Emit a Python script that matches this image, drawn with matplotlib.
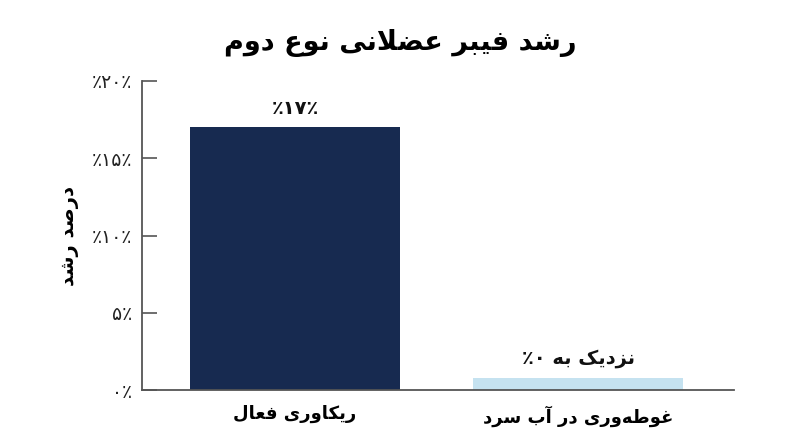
import matplotlib
matplotlib.use("Agg")
import matplotlib.pyplot as plt

# داده‌ها
categories = ["ریکاوری فعال", "غوطه‌وری در آب سرد"]
values = [17, 0.8]
bar_labels = ["٪۱۷٪", "نزدیک به ۰٪"]
colors = ["#172a50", "#c5e2f0"]
yticks = [0, 5, 10, 15, 20]
ytick_labels = ["۰٪", "۵٪", "٪۱۰٪", "٪۱۵٪", "٪۲۰٪"]
title = "رشد فیبر عضلانی نوع دوم"
ylabel = "درصد رشد"

# شکل‌دهی ساده حروف فارسی (matplotlib خودش حروف را به هم وصل نمی‌کند)
FORMS = {  # isolated, final, initial, medial
    "ا": (0xFE8D, 0xFE8E, None, None), "آ": (0xFE81, 0xFE82, None, None),
    "ب": (0xFE8F, 0xFE90, 0xFE91, 0xFE92), "ت": (0xFE95, 0xFE96, 0xFE97, 0xFE98),
    "د": (0xFEA9, 0xFEAA, None, None), "ر": (0xFEAD, 0xFEAE, None, None),
    "ز": (0xFEAF, 0xFEB0, None, None), "س": (0xFEB1, 0xFEB2, 0xFEB3, 0xFEB4),
    "ش": (0xFEB5, 0xFEB6, 0xFEB7, 0xFEB8), "ص": (0xFEB9, 0xFEBA, 0xFEBB, 0xFEBC),
    "ض": (0xFEBD, 0xFEBE, 0xFEBF, 0xFEC0), "ط": (0xFEC1, 0xFEC2, 0xFEC3, 0xFEC4),
    "ع": (0xFEC9, 0xFECA, 0xFECB, 0xFECC), "غ": (0xFECD, 0xFECE, 0xFECF, 0xFED0),
    "ف": (0xFED1, 0xFED2, 0xFED3, 0xFED4), "ل": (0xFEDD, 0xFEDE, 0xFEDF, 0xFEE0),
    "م": (0xFEE1, 0xFEE2, 0xFEE3, 0xFEE4), "ن": (0xFEE5, 0xFEE6, 0xFEE7, 0xFEE8),
    "ه": (0xFEE9, 0xFEEA, 0xFEEB, 0xFEEC), "و": (0xFEED, 0xFEEE, None, None),
    "ی": (0xFBFC, 0xFBFD, 0xFBFE, 0xFBFF), "ک": (0xFB8E, 0xFB8F, 0xFB90, 0xFB91),
}
LAM_ALEF = {"ا": (0xFEFB, 0xFEFC), "آ": (0xFEF5, 0xFEF6)}
DIGITS = "۰۱۲۳۴۵۶۷۸۹0123456789"


def dual(c):
    return c in FORMS and FORMS[c][2] is not None


def shape(text):
    chars = list(text)
    out = []
    i = 0
    while i < len(chars):
        c = chars[i]
        if c not in FORMS:
            if c != "\u200c":
                out.append(c)
            i += 1
            continue
        prev = chars[i - 1] if i > 0 else ""
        joined_prev = dual(prev)
        if c == "ل" and i + 1 < len(chars) and chars[i + 1] in LAM_ALEF:
            iso, fin = LAM_ALEF[chars[i + 1]]
            out.append(chr(fin if joined_prev else iso))
            i += 2
            continue
        nxt = chars[i + 1] if i + 1 < len(chars) else ""
        joined_next = dual(c) and nxt in FORMS
        iso, fin, ini, med = FORMS[c]
        if joined_prev and joined_next:
            code = med
        elif joined_prev:
            code = fin
        elif joined_next:
            code = ini
        else:
            code = iso
        out.append(chr(code))
        i += 1
    # ترتیب دیداری: برعکس کردن، ولی اعداد از چپ به راست
    rev = "".join(reversed(out))
    res, run = [], ""
    for ch in rev:
        if ch in DIGITS:
            run += ch
        else:
            res.append(run[::-1])
            run = ""
            res.append(ch)
    res.append(run[::-1])
    return "".join(res)


def vis(s):
    # برچسب‌های عددی همان‌طور که در تصویر دیده می‌شوند
    if any(ch in FORMS for ch in s):
        return shape(s)
    return s


plt.rcParams["font.family"] = ["DejaVu Sans"]

fig = plt.figure(figsize=(8, 4.47), dpi=100)
ax = fig.add_axes([0.1775, 0.1275, 0.74, 0.6913])

x = list(range(len(categories)))
bars = ax.bar(x, values, width=0.74, color=colors)

for rect, lab in zip(bars, bar_labels):
    ax.annotate(vis(lab), (rect.get_x() + rect.get_width() / 2, rect.get_height()),
                xytext=(0, 7), textcoords="offset points", ha="center", va="bottom",
                fontsize=14, fontweight="bold", color="#111111")

ax.set_xlim(-0.54, 1.55)
ax.set_ylim(0, 20)
ax.set_yticks(yticks)
ax.set_yticklabels([vis(t) for t in ytick_labels])
ax.set_xticks(x)
ax.set_xticklabels([shape(c) for c in categories], fontsize=13, fontweight="bold")

ax.tick_params(axis="y", direction="in", length=11, width=1.2, color="#555555",
               labelsize=13.5, labelcolor="#222222", pad=7)
ax.tick_params(axis="x", length=0, pad=11)

for side in ["top", "right"]:
    ax.spines[side].set_visible(False)
for side in ["left", "bottom"]:
    ax.spines[side].set_color("#555555")
    ax.spines[side].set_linewidth(1.3)

ax.set_ylabel(shape(ylabel), fontsize=14, fontweight="bold", labelpad=9)
fig.suptitle(shape(title), x=0.5, y=0.935, fontsize=19.5, fontweight="bold")

fig.savefig("out.png", dpi=100)
